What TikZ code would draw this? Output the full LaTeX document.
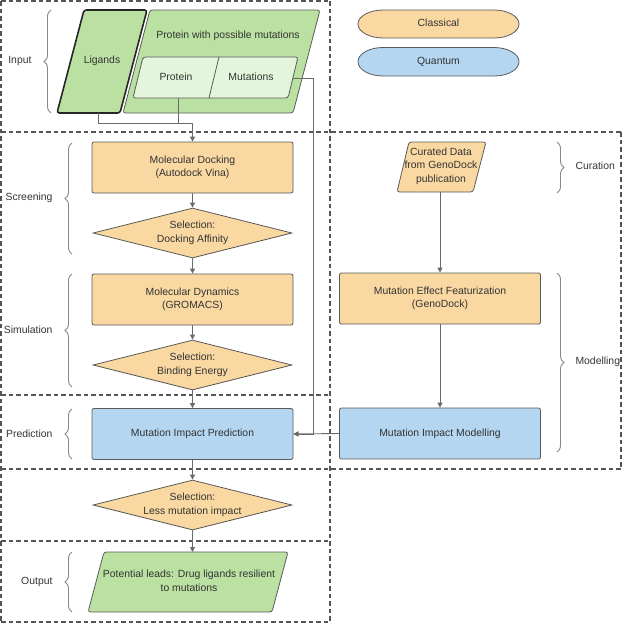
\documentclass[tikz,border=0pt]{standalone}
\usepackage{fontspec}
\setmainfont{Liberation Sans}
\usetikzlibrary{shapes.geometric,arrows.meta,decorations.pathreplacing,calc}
\definecolor{orf}{HTML}{F9D8A2}
\definecolor{blf}{HTML}{B4D6F0}
\definecolor{grf}{HTML}{BAE1A2}
\definecolor{lgf}{HTML}{E3F6DC}
\definecolor{bord}{HTML}{5A5A5A}
\definecolor{txt}{HTML}{333333}
\definecolor{lin}{HTML}{6A6A6A}
\definecolor{dsh}{HTML}{555555}
\begin{document}
\begin{tikzpicture}[x=1pt,y=-1pt,
  tx/.style={text=txt,font=\fontsize{10.4}{13.5}\selectfont,align=center},
  base/.style={tx,draw=bord,line width=0.8pt},
  proc/.style={base,rounded corners=2pt,fill=orf,minimum width=201pt,minimum height=51pt},
  qproc/.style={base,rounded corners=2pt,fill=blf,minimum width=201pt,minimum height=51pt},
  dec/.style={base,diamond,aspect=4,fill=orf,inner sep=0pt,minimum width=199pt,minimum height=50pt},
  para/.style={draw=bord,line width=0.8pt,rounded corners=2.5pt},
  pill/.style={draw=bord,line width=0.8pt},
  conn/.style={draw=lin,line width=0.9pt},
  arr/.style={conn,-{Triangle[length=5pt,width=5pt]}},
  dbox/.style={draw=dsh,line width=1.2pt,dash pattern=on 4.5pt off 3pt},
  brc/.style={draw=lin!80,line width=0.9pt,decorate,decoration={brace,amplitude=7pt}},
  lbl/.style={tx}
]
\useasboundingbox (0,0) rectangle (623,624);

% dashed section lines (each drawn once)
\draw[dbox] (1,1) -- (330,1);
\draw[dbox] (1,132) -- (621,132);
\draw[dbox] (1,395) -- (330,395);
\draw[dbox] (1,469) -- (621,469);
\draw[dbox] (1,541) -- (330,541);
\draw[dbox] (1,622) -- (330,622);
\draw[dbox] (1,1) -- (1,622);
\draw[dbox] (330,1) -- (330,622);
\draw[dbox] (621,132) -- (621,469);

% input shapes
\draw[para,fill=grf,draw=black!85,line width=1.6pt] (57,113) -- (84,10) -- (147,10) -- (120,113) -- cycle;
\node[tx] (lig) at (102,61) {Ligands};
\draw[para,fill=grf] (123,113) -- (150,10) -- (320,10) -- (293,113) -- cycle;
\node[tx] (pwm) at (228,36) {Protein with possible mutations};
\draw[para,fill=lgf] (133,98) -- (143,57) -- (298,57) -- (288,98) -- cycle;
\draw[draw=bord,line width=0.8pt] (219,57) -- (209,98);
\node[tx] (prot) at (176,77) {Protein};
\node[tx] (mut) at (251,77) {Mutations};
\coordinate (ligb) at (98,113);
\coordinate (protb) at (178,98);
\coordinate (mutr) at (293,78);
\coordinate (mutbend) at (313,78);

% legend
\draw[pill,fill=orf] (383,10) -- (494,10) arc[start angle=-90,end angle=90,x radius=25,y radius=14] -- (383,38) arc[start angle=90,end angle=270,x radius=25,y radius=14] -- cycle;
\node[tx] (cls) at (438.5,23) {Classical};
\draw[pill,fill=blf] (383,47.5) -- (494,47.5) arc[start angle=-90,end angle=90,x radius=25,y radius=14.25] -- (383,76) arc[start angle=90,end angle=270,x radius=25,y radius=14.25] -- cycle;
\node[tx] (qtm) at (438.5,61.5) {Quantum};

% main column
\node[proc] (dock) at (192.5,167.5) {Molecular Docking\\(Autodock Vina)};
\node[dec] (sel1) at (192.5,233) {Selection:\\Docking Affinity};
\node[proc] (md) at (192.5,299.5) {Molecular Dynamics\\(GROMACS)};
\node[dec] (sel2) at (192.5,365) {Selection:\\Binding Energy};
\node[qproc] (pred) at (192.5,434) {Mutation Impact Prediction};
\node[dec] (sel3) at (192.5,505) {Selection:\\Less mutation impact};
\draw[para,fill=grf] (88,612) -- (104,552) -- (288,552) -- (272,612) -- cycle;
\node[tx] (out) at (189,581) {Potential leads: Drug ligands resilient\\to mutations};
\coordinate (outtop) at (192.5,552);

% right column
\draw[para,fill=orf] (397,192) -- (409,142) -- (486,142) -- (473,192) -- cycle;
\node[tx] (cur) at (441,166) {Curated Data\\from GenoDock\\publication};
\coordinate (curb) at (440,192);
\node[proc] (feat) at (440,298.5) {Mutation Effect Featurization\\(GenoDock)};
\node[qproc] (model) at (440,433.5) {Mutation Impact Modelling};

% connectors
\draw[arr] (ligb) -- ++(0,10) -| (dock.north);
\draw[conn] (protb) -- ++(0,25);
\draw[arr] (mutr) -- (mutbend) |- (pred.east);
\draw[arr] (dock) -- (sel1);
\draw[arr] (sel1) -- (md);
\draw[arr] (md) -- (sel2);
\draw[arr] (sel2) -- (pred);
\draw[arr] (pred) -- (sel3);
\draw[arr] (sel3) -- (outtop);
\draw[arr] (curb) -- (feat);
\draw[arr] (feat) -- (model);
\draw[arr] (model.west) -- (pred.east);

% braces and labels
\draw[brc] (51,113) -- (51,10);
\node[lbl,anchor=east] (linput) at (35,61) {Input};
\draw[brc] (72,254) -- (72,143);
\node[lbl,anchor=east] (lscr) at (56,198) {Screening};
\draw[brc] (72,387) -- (72,274);
\node[lbl,anchor=east] (lsim) at (56,330) {Simulation};
\draw[brc] (72,459) -- (72,409);
\node[lbl,anchor=east] (lpred) at (56,434) {Prediction};
\draw[brc] (72,612) -- (72,552);
\node[lbl,anchor=east] (lout) at (56,582) {Output};
\draw[brc] (557,142) -- (557,193);
\node[lbl,anchor=west] (lcur) at (572,166) {Curation};
\draw[brc] (557,273) -- (557,452);
\node[lbl,anchor=west] (lmod) at (572,362) {Modelling};
\end{tikzpicture}
\end{document}
